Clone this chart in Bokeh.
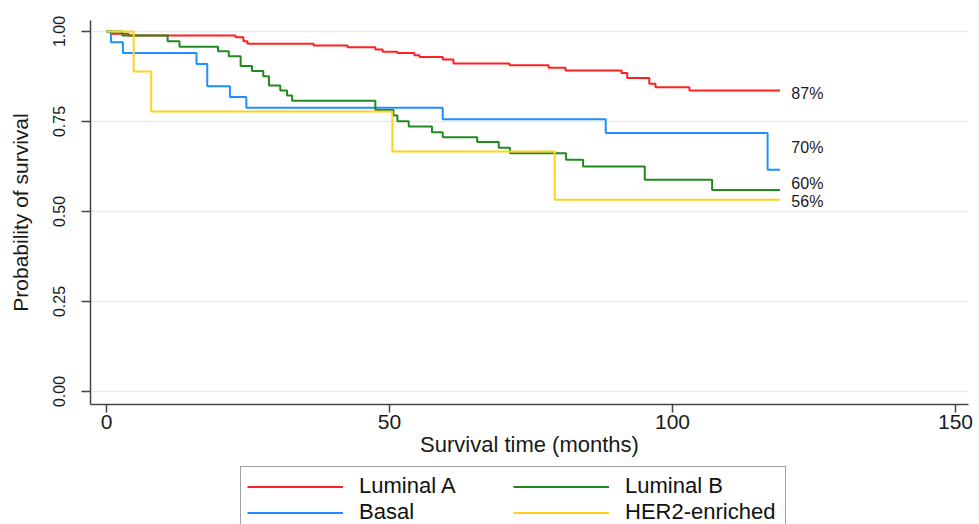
from bokeh.plotting import figure
from bokeh.layouts import column
from bokeh.models import Range1d, FixedTicker, PrintfTickFormatter, Legend, LegendItem
from bokeh.core.properties import value
from bokeh.embed import file_html
from bokeh.resources import INLINE

# ---- data ----
lumA_t = [0, 0.7, 3.9, 22.8, 24.2, 24.9, 36.6, 42.6, 47.5, 48.8, 51.4, 54.4, 55.3, 59.4, 61.3,
          71.2, 78.1, 81.1, 91.0, 92.0, 95.9, 97.0, 103.0, 119]
lumA_s = [1.0, 0.994, 0.989, 0.984, 0.973, 0.966, 0.961, 0.956, 0.950, 0.944, 0.940, 0.934, 0.929,
          0.922, 0.911, 0.906, 0.899, 0.892, 0.885, 0.871, 0.855, 0.845, 0.836, 0.836]

basal_t = [0, 0.8, 2.9, 15.9, 17.8, 21.8, 24.7, 59.4, 88.2, 116.8, 119]
basal_s = [1.0, 0.970, 0.940, 0.910, 0.848, 0.818, 0.788, 0.756, 0.718, 0.616, 0.616]

lumB_t = [0, 2.8, 10.8, 12.9, 19.7, 21.6, 23.7, 25.7, 27.7, 28.7, 30.7, 31.9, 32.8, 47.5, 50.7,
          51.4, 53.4, 57.5, 59.4, 65.5, 69.3, 71.3, 81.2, 84.2, 95.1, 107.0, 119]
lumB_s = [1.0, 0.989, 0.973, 0.958, 0.945, 0.931, 0.904, 0.890, 0.876, 0.850, 0.836, 0.822, 0.808,
          0.782, 0.767, 0.751, 0.736, 0.720, 0.706, 0.693, 0.677, 0.662, 0.644, 0.625, 0.588, 0.560,
          0.560]

her2_t = [0, 4.8, 7.9, 50.5, 79.2, 119]
her2_s = [1.0, 0.889, 0.778, 0.667, 0.533, 0.533]

groups = ["Luminal A", "Luminal B", "Basal", "HER2-enriched"]
colors = {"Luminal A": "#ff1f1f", "Basal": "#1e8fff", "Luminal B": "#1f8a1f", "HER2-enriched": "#ffd21a"}

pct_labels = ["87%", "70%", "60%", "56%"]
pct_label_y = [0.829, 0.679, 0.579, 0.529]

x_ticks = [0, 50, 100, 150]
y_ticks = [0, 0.25, 0.5, 0.75, 1.0]

FONT = "Liberation Sans"

p = figure(width=979, height=464, output_backend="svg", toolbar_location=None,
           x_range=Range1d(-2.83, 152.3), y_range=Range1d(-0.0361, 1.0306),
           min_border_left=90, min_border_right=11, min_border_top=20, min_border_bottom=60)
p.outline_line_color = None
p.background_fill_color = "white"
p.border_fill_color = "white"

# grid
p.xgrid.grid_line_color = None
p.ygrid.grid_line_color = "#e6eef0"
p.ygrid.grid_line_width = 1.5
p.ygrid.ticker = FixedTicker(ticks=y_ticks)

# axes
p.xaxis.ticker = FixedTicker(ticks=x_ticks)
p.yaxis.ticker = FixedTicker(ticks=y_ticks)
p.yaxis.formatter = PrintfTickFormatter(format="%.2f")
for ax in (p.xaxis, p.yaxis):
    ax.axis_line_color = "#444444"
    ax.axis_line_width = 1.5
    ax.major_tick_line_color = "#444444"
    ax.major_tick_line_width = 1.5
    ax.major_tick_in = 0
    ax.minor_tick_line_color = None
    ax.major_label_text_font = FONT
    ax.major_label_text_color = "#1a1a1a"
    ax.axis_label_text_font = FONT
    ax.axis_label_text_font_style = "normal"
    ax.axis_label_text_color = "#1a1a1a"

p.xaxis.axis_label = "Survival time (months)"
p.xaxis.major_tick_out = 8
p.xaxis.major_label_text_font_size = "21px"
p.xaxis.major_label_standoff = 2
p.xaxis.axis_label_text_font_size = "22px"
p.xaxis.axis_label_standoff = 0

p.yaxis.axis_label = "Probability of survival"
p.yaxis.major_tick_out = 9
p.yaxis.major_label_orientation = "parallel"
p.yaxis.major_label_text_font_size = "16px"
p.yaxis.major_label_standoff = 16
p.yaxis.axis_label_text_font_size = "21px"
p.yaxis.axis_label_standoff = 19

# curves
r_a = p.step(lumA_t, lumA_s, mode="after", line_color=colors["Luminal A"], line_width=2)
r_basal = p.step(basal_t, basal_s, mode="after", line_color=colors["Basal"], line_width=2)
r_b = p.step(lumB_t, lumB_s, mode="after", line_color=colors["Luminal B"], line_width=2)
r_h = p.step(her2_t, her2_s, mode="after", line_color=colors["HER2-enriched"], line_width=2)

# end-point labels
p.text(x=[lumA_t[-1] + 2] * len(pct_labels), y=pct_label_y, text=pct_labels,
       text_font=value(FONT), text_font_size="16px", text_color="#1a1a1a",
       text_align="left", text_baseline="middle")

# ---- legend strip below the plot (its frame is aligned with the plot frame) ----
leg = figure(width=979, height=60, output_backend="svg", toolbar_location=None,
             x_range=Range1d(0, 1), y_range=Range1d(0, 1),
             x_axis_type=None, y_axis_type=None,
             min_border_left=0, min_border_right=0, min_border_top=0, min_border_bottom=0)
leg.grid.grid_line_color = None
leg.outline_line_color = None
leg.border_fill_color = "white"
nan = float("nan")
keys = {g: leg.line(x=[nan], y=[nan], line_color=colors[g], line_width=2) for g in groups}

legend = Legend(items=[LegendItem(label=g, renderers=[keys[g]]) for g in groups],
                orientation="horizontal", ncols=2, location=(150, -8))
legend.label_text_font = FONT
legend.label_text_font_size = "22px"
legend.label_text_color = "#111111"
legend.glyph_width = 96
legend.glyph_height = 25
legend.label_height = 25
legend.label_width = 154
legend.label_standoff = 16
legend.spacing = 0
legend.padding = 6
legend.margin = 0
legend.border_line_color = "#444444"
legend.border_line_width = 1.5
legend.background_fill_alpha = 1
leg.add_layout(legend)

layout = column(p, leg, spacing=0)
html = file_html(layout, INLINE)
open("out.html", "w").write(html)
